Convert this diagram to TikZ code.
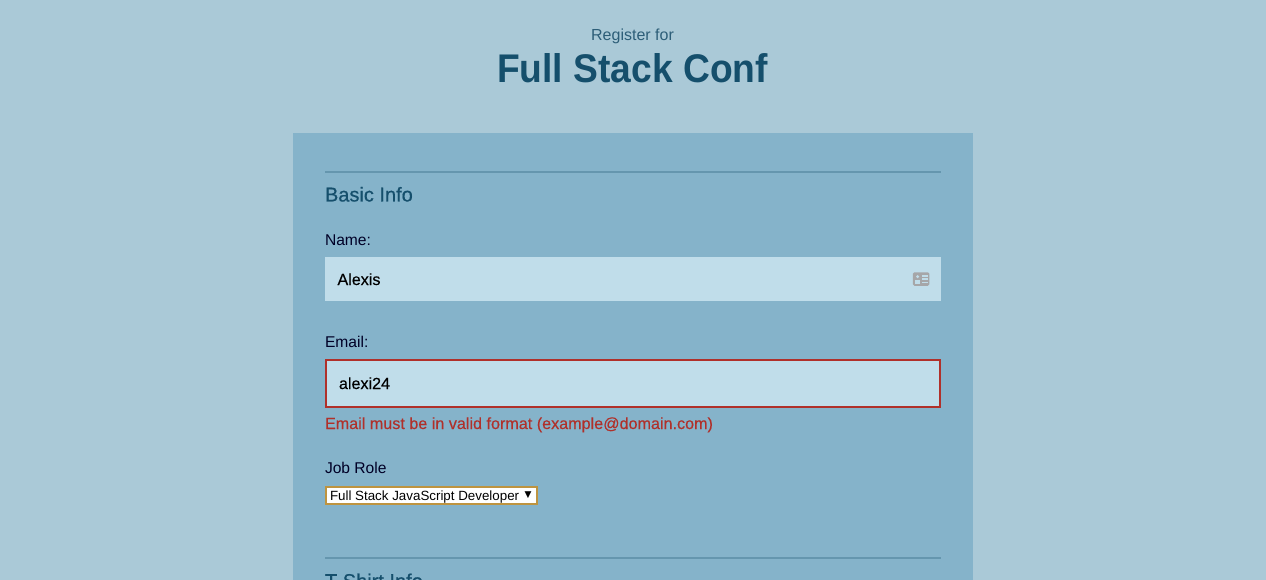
\documentclass[tikz,border=0pt]{standalone}
\usepackage{fontspec}
\setmainfont{Liberation Sans}
\newfontfamily\titlefont[FakeStretch=0.93]{Liberation Sans}
\newfontfamily\mediumfont[FakeBold=0.3]{Liberation Sans}
\newfontfamily\headingfont[FakeBold=0.6]{Liberation Sans}
\definecolor{pagebg}{HTML}{AAC9D7}
\definecolor{panelbg}{HTML}{85B3CA}
\definecolor{fieldbg}{HTML}{C0DDEA}
\definecolor{titleblue}{HTML}{154F6C}
\definecolor{subtitle}{HTML}{2D5E78}
\definecolor{rulecol}{HTML}{6596AE}
\definecolor{errorred}{HTML}{B0302A}
\definecolor{selectgold}{HTML}{BE9440}
\definecolor{icongrey}{HTML}{A6A6A8}
\tikzset{
  txt/.style = {anchor=base west, inner sep=0pt, outer sep=0pt},
  heading/.style = {txt, text=titleblue, font=\headingfont\fontsize{20}{24}\selectfont},
  label/.style = {txt, text=black!85!blue, font=\fontsize{15.6}{18}\selectfont},
  value/.style = {txt, text=black, font=\mediumfont\fontsize{16.1}{18}\selectfont},
  field/.style = {anchor=north west, fill=fieldbg, inner sep=0pt, outer sep=0pt, minimum width=616pt},
  sectionrule/.style = {draw=rulecol, line width=2pt}
}
\begin{document}
\begin{tikzpicture}[x=1pt, y=-1pt]
\useasboundingbox (0, 0) rectangle (1266, 580);
\clip (0, 0) rectangle (1266, 580);
\fill[pagebg] (0, 0) rectangle (1266, 580);
\fill[panelbg] (293, 133) rectangle (973, 580);

\node[anchor=base, inner sep=0pt, text=subtitle, font=\fontsize{16}{18}\selectfont] (register) at (632.5, 41) {Register for};
\node[anchor=base, inner sep=0pt, text=titleblue, font=\titlefont\fontsize{40}{46}\selectfont\bfseries] (conf) at (632.5, 83) {Full Stack Conf};

% basic info
\coordinate (ruleaw) at (325, 172);
\coordinate (ruleae) at (941, 172);
\draw[sectionrule] (ruleaw) -- (ruleae);
\node[heading] (basic) at (325, 201.5) {Basic Info};

\node[label] (namelabel) at (325, 245) {Name:};
\node[field, minimum height=44pt] (namefield) at (325, 257) {};
\node[value] (nameval) at (337.5, 285) {Alexis};

% card icon
\node[anchor=center, fill=icongrey, rounded corners=1.5pt, minimum width=16.5pt, minimum height=13.5pt, inner sep=0pt] (card) at (921, 279) {};
\fill[fieldbg] (917.6, 276.6) circle (1.7);
\fill[fieldbg] (915, 284) rectangle (920.2, 279.6);
\foreach \y in {275.4, 278.4, 281.6}
  \fill[fieldbg] (921.8, \y) rectangle (927.6, \y + 1.5);

\node[label] (emaillabel) at (325, 347) {Email:};
\node[field, minimum width=614pt, minimum height=47pt, anchor=north west, draw=errorred, line width=2pt] (emailfield) at (326, 360) {};
\node[value] (emailval) at (339, 389) {alexi24};
\node[label, text=errorred, font=\mediumfont\fontsize{16.15}{18}\selectfont] (emailerror) at (325, 429) {Email must be in valid format (example@domain.com)};

\node[label] (jobrole) at (325, 473) {Job Role};
\node[anchor=north west, fill=white, draw=selectgold, line width=2pt, inner sep=0pt, outer sep=0pt, minimum width=211pt, minimum height=17pt] (jobselect) at (326, 487) {};
\node[txt, text=black, font=\fontsize{13.35}{15}\selectfont] (jobval) at (330, 500) {Full Stack JavaScript Developer};
\node[anchor=center, inner sep=0pt, font=\fontsize{9}{9}\selectfont] (arrowmark) at (528, 495) {\fontspec{DejaVu Sans}▼};

% t-shirt info
\coordinate (rulebw) at (325, 558);
\coordinate (rulebe) at (941, 558);
\draw[sectionrule] (rulebw) -- (rulebe);
\node[heading] (tshirt) at (325, 588) {T-Shirt Info};
\end{tikzpicture}
\end{document}
